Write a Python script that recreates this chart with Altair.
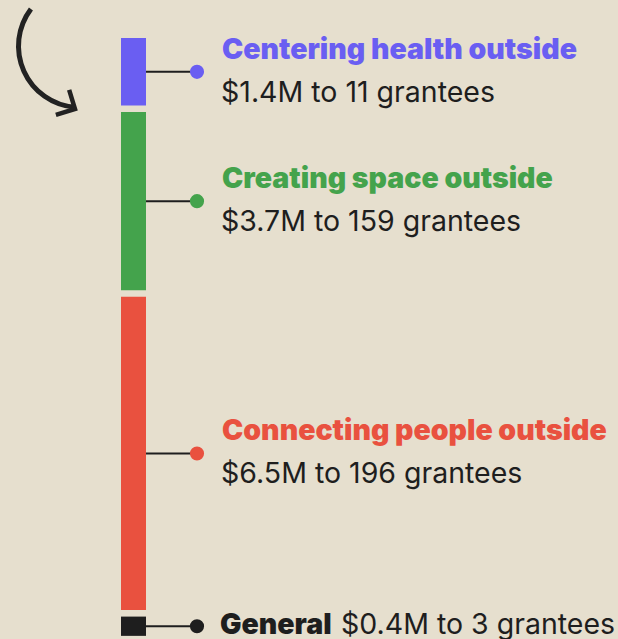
import altair as alt
import pandas as pd

# ---- data ----
categories = ["Centering health outside", "Creating space outside",
              "Connecting people outside", "General"]
amounts_m = [1.4, 3.7, 6.5, 0.4]          # $M
grantees = [11, 159, 196, 3]
colors = ["#6a5ef2", "#44a34c", "#e9513f", "#1e1e1e"]

GAP = 0.135  # visual gap between segments, in $M units

rows = []
cum = 0.0
for i, (c, a, g, col) in enumerate(zip(categories, amounts_m, grantees, colors)):
    y0 = cum + i * GAP
    y1 = y0 + a
    rows.append(dict(cat=c, amount=a, grantees=g, color=col, y0=y0, y1=y1,
                     mid=(y0 + y1) / 2,
                     sub=f"${a}M to {g} grantees"))
    cum += a
df = pd.DataFrame(rows)

BG = "#e6dfce"
yscale = alt.Scale(domain=[-0.79, 12.47], reverse=True, nice=False, zero=False)
Y = lambda f: alt.Y(f"{f}:Q", scale=yscale, axis=None)
col_enc = alt.Color("color:N", scale=None)

base = alt.Chart(df)

bars = base.mark_rect().encode(
    x=alt.value(121), x2=alt.value(146),
    y=Y("y0"), y2="y1", color=col_enc)

rules = base.mark_rule(color="#1e1e1e", strokeWidth=2).encode(
    x=alt.value(146), x2=alt.value(197), y=Y("mid"))

dots = base.mark_point(filled=True, size=200, opacity=1).encode(
    x=alt.value(197), y=Y("mid"), color=col_enc)

main = base.transform_filter(alt.datum.cat != "General")
gen = base.transform_filter(alt.datum.cat == "General")

TITLE_FS = 28.5
SUB_FS = 28.5

titles = main.mark_text(align="left", baseline="middle", dy=-22,
                        font="Inter", fontWeight=900, fontSize=TITLE_FS).encode(
    x=alt.value(222), y=Y("mid"), text="cat:N", color=col_enc)

subs = main.mark_text(align="left", baseline="middle", dy=21,
                      font="Inter", fontWeight=400, fontSize=SUB_FS,
                      color="#1e1e1e").encode(
    x=alt.value(221), y=Y("mid"), text="sub:N")

gen_title = gen.mark_text(align="left", baseline="middle", dy=-1,
                          font="Inter", fontWeight=900, fontSize=TITLE_FS,
                          color="#1e1e1e").encode(
    x=alt.value(220), y=Y("mid"), text="cat:N")

gen_sub = gen.mark_text(align="left", baseline="middle", dy=-1,
                        font="Inter", fontWeight=400, fontSize=SUB_FS,
                        color="#1e1e1e").encode(
    x=alt.value(341), y=Y("mid"), text="sub:N")

# decorative hand-drawn arrow
arrow_df = pd.DataFrame({"k": [0]})
arc = alt.Chart(arrow_df).mark_arc(
    theta=3.22, theta2=5.36, radius=59, radius2=64, color="#222222").encode(
    x=alt.value(80), y=alt.value(46))
head = alt.Chart(arrow_df).mark_point(
    shape="M-1,-1L0,0L-1,1", filled=False, size=800, strokeWidth=4.5,
    color="#222222", angle=28, opacity=1).encode(
    x=alt.value(75), y=alt.value(109))

chart = alt.layer(bars, rules, dots, titles, subs, gen_title, gen_sub, arc, head).properties(
    width=618, height=639, background=BG, padding=0,
    autosize=alt.AutoSizeParams(type="none")
).configure_view(stroke=None)

chart.save("out.html", embed_options={"renderer": "svg", "actions": False})
